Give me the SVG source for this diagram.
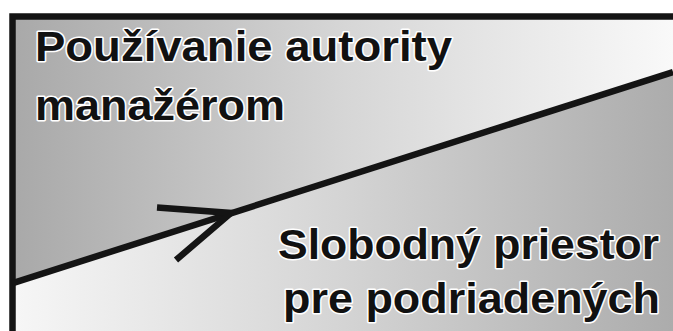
<svg xmlns="http://www.w3.org/2000/svg" width="673" height="331" viewBox="0 0 673 331">
  <defs>
    <linearGradient id="gUp" x1="16" y1="0" x2="673" y2="0" gradientUnits="userSpaceOnUse">
      <stop offset="0" stop-color="#a9a9a9"/>
      <stop offset="0.5" stop-color="#d6d6d6"/>
      <stop offset="1" stop-color="#f9f9f9"/>
    </linearGradient>
    <linearGradient id="gLow" x1="16" y1="0" x2="673" y2="0" gradientUnits="userSpaceOnUse">
      <stop offset="0" stop-color="#f6f6f6"/>
      <stop offset="0.5" stop-color="#d4d4d4"/>
      <stop offset="1" stop-color="#acacac"/>
    </linearGradient>
  </defs>
  <style>
    .lbl { font-family: "Liberation Sans", Arial, sans-serif; font-weight: bold; font-size: 42px; fill: #111; stroke: #ffffff; stroke-width: 3px; stroke-linejoin: round; paint-order: stroke fill; }
    .ln { fill: none; stroke: #141414; stroke-width: 6.5; stroke-linecap: butt; }
  </style>
  <rect x="0" y="0" width="673" height="331" fill="#ffffff"/>
  <g id="region-upper">
    <polygon points="12,16 673,16 673,72 12,283" fill="url(#gUp)"/>
  </g>
  <g id="region-lower">
    <polygon points="12,283 673,72 673,331 12,331" fill="url(#gLow)"/>
  </g>
  <g id="frame">
    <path class="ln" d="M12.5,331 V16.5 H673"/>
  </g>
  <g id="connectors">
    <line class="ln" x1="12" y1="283.3" x2="673" y2="72"/>
    <path class="ln" d="M157,207.5 L231,213 L176,260" stroke-linejoin="miter"/>
  </g>
  <g id="label-manager">
    <text class="lbl" x="35" y="61" textLength="417" lengthAdjust="spacingAndGlyphs">Používanie autority</text>
    <text class="lbl" x="35" y="120" textLength="250" lengthAdjust="spacingAndGlyphs">manažérom</text>
  </g>
  <g id="label-subordinates">
    <text class="lbl" x="278" y="259" textLength="381" lengthAdjust="spacingAndGlyphs">Slobodný priestor</text>
    <text class="lbl" x="283" y="313" textLength="377" lengthAdjust="spacingAndGlyphs">pre podriadených</text>
  </g>
</svg>
